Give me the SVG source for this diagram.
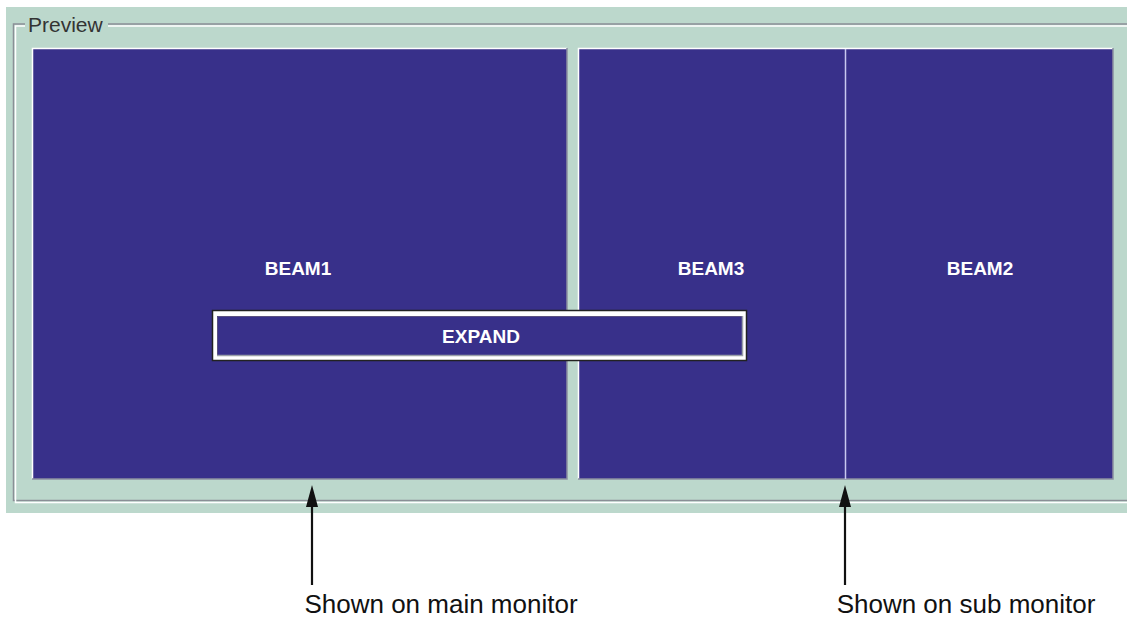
<svg xmlns="http://www.w3.org/2000/svg" width="1127" height="619" viewBox="0 0 1127 619">
<style>
.beam{fill:#38308A}
.lbl{font-family:"Liberation Sans",Arial,sans-serif;font-weight:bold;font-size:19px;fill:#fff;text-anchor:middle}
.cap{font-family:"Liberation Sans",Arial,sans-serif;font-size:26px;fill:#111;text-anchor:middle}
.hl{stroke:#fff;stroke-width:1.5;fill:none}
.sh{stroke:#8A8FA0;stroke-width:1.5;fill:none}
.head{fill:#111}
</style>
<rect width="1127" height="619" fill="#fff"/>
<g id="panel">
<rect x="6" y="7" width="1121" height="506" fill="#BCD8CC"/>
<path d="M1127,24 H13.5 V500.5 H1127" stroke="#8A8F96" stroke-width="1.5" fill="none"/>
<path d="M1127,26 H15.5 V502.5 H1127" stroke="#fff" stroke-width="1.5" fill="none"/>
<rect x="25" y="14" width="83" height="16" fill="#BCD8CC"/>
<text x="28" y="32" font-family="'Liberation Sans',Arial,sans-serif" font-size="21" fill="#333">Preview</text>
</g>
<g id="beam1">
<rect class="beam" x="32" y="48" width="535" height="431"/>
<path class="hl" d="M32.5,479 V48.5 H567"/>
<path class="sh" d="M32,479 H567 V48"/>
<text class="lbl" x="298" y="275">BEAM1</text>
</g>
<g id="beam3">
<rect class="beam" x="578" y="48" width="267" height="431"/>
<path class="hl" d="M578.5,479 V48.5 H845"/>
<text class="lbl" x="711" y="275">BEAM3</text>
</g>
<g id="beam2">
<rect class="beam" x="845" y="48" width="268" height="431"/>
<path class="hl" d="M845,48.5 H1113"/>
<path class="sh" d="M578,479 H1113 V48"/>
<line x1="845.5" y1="49" x2="845.5" y2="479" stroke="#C8C8F0" stroke-width="1.5"/>
<text class="lbl" x="980" y="275">BEAM2</text>
</g>
<g id="expand">
<rect x="212.5" y="310.5" width="534" height="50" fill="#fff" stroke="#222" stroke-width="1.5"/>
<rect class="beam" x="217" y="316" width="525" height="39"/>
<path d="M217.5,355 V316.5 H742" stroke="#5a5080" stroke-width="1" fill="none"/>
<path d="M217,355.5 H742.5 V316" stroke="#9aa0a8" stroke-width="1.5" fill="none"/>
<text class="lbl" x="481" y="343">EXPAND</text>
</g>
<g id="connectors">
<line x1="312" y1="585" x2="312" y2="505" stroke="#111" stroke-width="2.2"/>
<polygon class="head" points="312,485 306,507 318,507"/>
<line x1="845" y1="585" x2="845" y2="505" stroke="#111" stroke-width="2.2"/>
<polygon class="head" points="845,485 839,507 851,507"/>
</g>
<g id="captions">
<text class="cap" x="441" y="613">Shown on main monitor</text>
<text class="cap" x="966" y="613">Shown on sub monitor</text>
</g>
</svg>
